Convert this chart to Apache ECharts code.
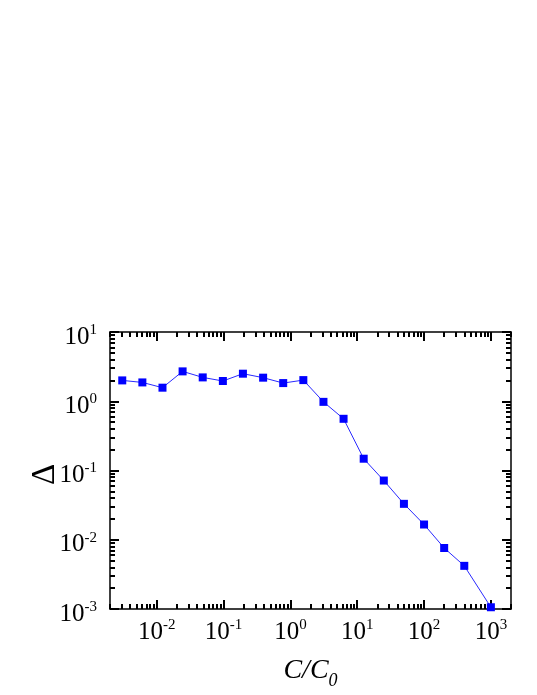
<!DOCTYPE html>
<html>
<head>
<meta charset="utf-8">
<script src="https://cdn.jsdelivr.net/npm/echarts@6/dist/echarts.min.js"></script>
<style>
html, body { margin: 0; padding: 0; background: #fff; }
#chartDiv { width: 537px; height: 695px; }
</style>
</head>
<body>
<div id="chartDiv"></div>
<script>
// data
let ratioValues = [0.00305, 0.0061, 0.0122, 0.0244, 0.0488, 0.0977, 0.195, 0.391, 0.781, 1.5625,
	3.125, 6.25, 12.5, 25, 50, 100, 200, 400, 1000];
let deltaValues = [2.0, 1.87, 1.57, 2.70, 2.21, 1.96, 2.50, 2.19, 1.83, 2.02,
	0.98, 0.558, 0.148, 0.0716, 0.033, 0.0166, 0.0076, 0.0042, 0.00106];

let xMajorTicks = [0.01, 0.1, 1, 10, 100, 1000];
let yMajorTicks = [0.001, 0.01, 0.1, 1, 10];
let xRange = [0.002, 2000];
let yRange = [0.001, 10];

// minor ticks 2..9 of each decade
function minorTicks(range) {
	let out = [];
	let lo = Math.floor(Math.log10(range[0]));
	let hi = Math.ceil(Math.log10(range[1]));
	for (let e = lo; e <= hi; e++) {
		for (let m = 2; m <= 9; m++) {
			let v = Number(m + 'e' + e);
			if (v >= range[0] && v <= range[1]) out.push(v);
		}
	}
	return out;
}

let serif = "'Liberation Serif', 'Times New Roman', serif";
let labelRich = {
	b: {fontSize: 25, fontFamily: serif, color: '#000', lineHeight: 27, verticalAlign: 'bottom'},
	s: {fontSize: 15, fontFamily: serif, color: '#000', lineHeight: 15, verticalAlign: 'top'}
};
function powLabel(v) {
	return '{b|10}{s|' + Math.round(Math.log10(v)) + '}';
}

function makeAxis(position, ticks, length, withLine, range) {
	return {
		type: 'log',
		logBase: 10,
		position: position,
		min: range[0],
		max: range[1],
		splitLine: {show: false},
		axisLine: {show: withLine, lineStyle: {color: '#000', width: 1.5}},
		axisTick: {show: true, inside: true, length: length, customValues: ticks,
			lineStyle: {color: '#000', width: 2}},
		axisLabel: {show: false}
	};
}

let xMain = makeAxis('bottom', xMajorTicks, 9, true, xRange);
xMain.axisLabel = {
	show: true, customValues: xMajorTicks, margin: 9,
	formatter: powLabel, rich: labelRich
};
xMain.name = '{i|C/C}{sub|0}';
xMain.nameLocation = 'middle';
xMain.nameGap = 48;
xMain.nameMoveOverlap = false;
xMain.nameTextStyle = {
	rich: {
		i: {fontSize: 28, fontFamily: serif, fontStyle: 'italic', color: '#000', lineHeight: 28, verticalAlign: 'top'},
		sub: {fontSize: 18, fontFamily: serif, fontStyle: 'italic', color: '#000', lineHeight: 33, verticalAlign: 'bottom'}
	}
};

let yMain = makeAxis('left', yMajorTicks, 9, true, yRange);
yMain.axisLabel = {
	show: true, customValues: yMajorTicks, margin: 13,
	padding: [8, 0, 0, 0],
	formatter: powLabel, rich: labelRich
};
yMain.name = 'Δ';
yMain.nameLocation = 'middle';
yMain.nameGap = 48;
yMain.nameMoveOverlap = false;
yMain.nameTextStyle = {fontSize: 33, fontFamily: serif, color: '#000', padding: [0, 8, 0, 0]};

let option = {
	backgroundColor: '#fff',
	animation: false,
	grid: {left: 110, top: 332, width: 401, height: 277, containLabel: false, outerBoundsMode: 'none'},
	xAxis: [
		xMain,
		makeAxis('bottom', minorTicks(xRange), 5, false, xRange),
		makeAxis('top', xMajorTicks, 9, true, xRange),
		makeAxis('top', minorTicks(xRange), 5, false, xRange)
	],
	yAxis: [
		yMain,
		makeAxis('left', minorTicks(yRange), 5, false, yRange),
		makeAxis('right', yMajorTicks, 9, true, yRange),
		makeAxis('right', minorTicks(yRange), 5, false, yRange)
	],
	series: [{
		type: 'line',
		xAxisIndex: 0,
		yAxisIndex: 0,
		data: ratioValues.map((x, i) => [x, deltaValues[i]]),
		symbol: 'rect',
		symbolSize: 8,
		itemStyle: {color: '#0000ff'},
		lineStyle: {color: '#2a2aff', width: 1},
		clip: false
	}]
};

let myChart = echarts.init(document.getElementById('chartDiv'));
myChart.setOption(option);
</script>
</body>
</html>
